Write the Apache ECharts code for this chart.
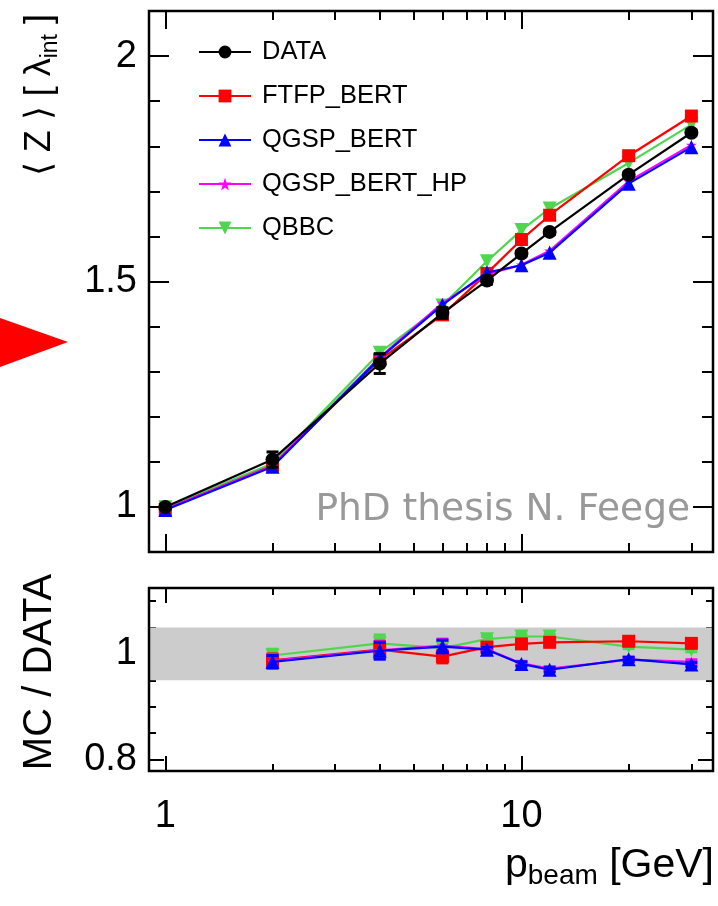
<!DOCTYPE html>
<html>
<head>
<meta charset="utf-8">
<script src="https://cdn.jsdelivr.net/npm/echarts@6/dist/echarts.min.js"></script>
<style>
html, body { margin: 0; padding: 0; background: #fff; }
#chart { width: 718px; height: 906px; }
</style>
</head>
<body>
<div id="chart"></div>
<script>
// Beam momenta [GeV] and mean shower depth <Z> [lambda_int]
const momenta = [1, 2, 4, 6, 8, 10, 12, 20, 30];
const zData    = [1.000, 1.105, 1.318, 1.430, 1.502, 1.562, 1.610, 1.737, 1.830];
const zDataErr = [0.004, 0.017, 0.022, 0.012, 0.008, 0.006, 0.006, 0.006, 0.006];
const zFtfp    = [0.995, 1.092, 1.326, 1.426, 1.518, 1.593, 1.647, 1.779, 1.867];
const zQgsp    = [0.993, 1.089, 1.330, 1.448, 1.520, 1.536, 1.564, 1.717, 1.798];
const zQgspHp  = [0.995, 1.091, 1.332, 1.452, 1.516, 1.537, 1.568, 1.722, 1.803];
const zQbbc    = [0.999, 1.096, 1.342, 1.447, 1.545, 1.614, 1.662, 1.763, 1.848];

// MC / DATA ratios
const ratioMomenta = [2, 4, 6, 8, 10, 12, 20, 30];
const rFtfp   = [0.988, 1.008, 0.995, 1.013, 1.019, 1.022, 1.024, 1.020];
const rQgsp   = [0.985, 1.006, 1.014, 1.008, 0.981, 0.970, 0.990, 0.980];
const rQgspHp = [0.987, 1.007, 1.016, 1.009, 0.982, 0.972, 0.989, 0.985];
const rQbbc   = [0.997, 1.020, 1.011, 1.028, 1.033, 1.033, 1.014, 1.008];
const rErr    = [0.012, 0.016, 0.012, 0.005, 0.004, 0.004, 0.004, 0.004];

// Axis ticks and labels
const xMajor = [1, 10];
const xMinor = [2, 3, 4, 5, 6, 7, 8, 9, 20, 30];
const yTopMajor = [1, 1.5, 2];
const yTopMinor = [1.1, 1.2, 1.3, 1.4, 1.6, 1.7, 1.8, 1.9];
const yBotMajor = [0.8, 1.0];
const yBotMinor = [0.85, 0.9, 0.95, 1.05, 1.1];
const bandLow = 0.95, bandHigh = 1.05;

const FONT = 'Liberation Sans, Arial, sans-serif';
const X_MIN = 0.9, X_MAX = 34.5;

const STAR = 'path://M50,0 L61,35 L98,35 L68,57 L79,91 L50,70 L21,91 L32,57 L2,35 L39,35 Z';
const DOWN_TRI = 'path://M0,0 L100,0 L50,87 Z';

const models = [
  { name: 'DATA',         color: '#000000', symbol: 'circle',   size: 14, top: zData,   ratio: null,    z: 10 },
  { name: 'FTFP_BERT',    color: '#ff0000', symbol: 'rect',     size: 13, top: zFtfp,   ratio: rFtfp,   z: 5 },
  { name: 'QGSP_BERT',    color: '#0000ff', symbol: 'triangle', size: 14, top: zQgsp,   ratio: rQgsp,   z: 7 },
  { name: 'QGSP_BERT_HP', color: '#ff00ff', symbol: STAR,       size: 11, top: zQgspHp, ratio: rQgspHp, z: 6 },
  { name: 'QBBC',         color: '#4fd64f', symbol: DOWN_TRI,   size: 14, top: zQbbc,   ratio: rQbbc,   z: 4 }
];

function xAxisDef(grid, pos, ticks, len, labels) {
  return {
    type: 'log', logBase: 10, gridIndex: grid, position: pos, min: X_MIN, max: X_MAX,
    axisLine: { show: false }, splitLine: { show: false },
    axisTick: { show: true, inside: true, length: len, customValues: ticks,
                lineStyle: { color: '#000', width: 2 } },
    axisLabel: labels
      ? { show: true, customValues: labels, fontSize: 38, fontFamily: FONT, color: '#000', margin: 27 }
      : { show: false }
  };
}

function yAxisDef(grid, pos, min, max, ticks, len, labels) {
  return {
    type: 'value', gridIndex: grid, position: pos, min: min, max: max,
    axisLine: { show: false }, splitLine: { show: false },
    axisTick: { show: true, inside: true, length: len, customValues: ticks,
                lineStyle: { color: '#000', width: 2 } },
    axisLabel: labels
      ? { show: true, customValues: labels, fontSize: 38, fontFamily: FONT, color: '#000', margin: 12 }
      : { show: false }
  };
}

function errorBars(xs, ys, errs, color, xi, yi, z) {
  return {
    type: 'custom', xAxisIndex: xi, yAxisIndex: yi, z: z, silent: true,
    data: xs.map((x, i) => [x, ys[i], errs[i]]),
    renderItem: function (params, api) {
      const x = api.value(0), y = api.value(1), e = api.value(2);
      const lo = api.coord([x, y - e]);
      const hi = api.coord([x, y + e]);
      const cw = 6;
      return {
        type: 'group',
        children: [
          { type: 'line', shape: { x1: lo[0], y1: lo[1], x2: hi[0], y2: hi[1] }, style: { stroke: color, lineWidth: 2 } },
          { type: 'line', shape: { x1: lo[0] - cw, y1: lo[1], x2: lo[0] + cw, y2: lo[1] }, style: { stroke: color, lineWidth: 3 } },
          { type: 'line', shape: { x1: hi[0] - cw, y1: hi[1], x2: hi[0] + cw, y2: hi[1] }, style: { stroke: color, lineWidth: 3 } }
        ]
      };
    }
  };
}

function lineSeries(m, xs, ys, xi, yi) {
  return {
    type: 'line', name: m.name, xAxisIndex: xi, yAxisIndex: yi, z: m.z,
    data: xs.map((x, i) => [x, ys[i]]),
    symbol: m.symbol, symbolSize: m.size, showSymbol: true,
    lineStyle: { color: m.color, width: 2.2 },
    itemStyle: { color: m.color },
    emphasis: { disabled: true }
  };
}

const series = [];
// shaded +-5% band in the ratio panel
series.push({
  type: 'line', xAxisIndex: 4, yAxisIndex: 4, data: [], z: 1, silent: true,
  markArea: { silent: true, itemStyle: { color: '#cccccc' },
    data: [[{ xAxis: X_MIN, yAxis: bandLow }, { xAxis: X_MAX, yAxis: bandHigh }]] }
});
models.forEach(m => series.push(lineSeries(m, momenta, m.top, 0, 0)));
series.push(errorBars(momenta, zData, zDataErr, '#000000', 0, 0, 11));
models.forEach(m => {
  if (m.ratio) {
    series.push(lineSeries(m, ratioMomenta, m.ratio, 4, 4));
    series.push(errorBars(ratioMomenta, m.ratio, rErr, m.color, 4, 4, m.z));
  }
});

const chart = echarts.init(document.getElementById('chart'), null, { renderer: 'canvas' });
chart.setOption({
  animation: false,
  backgroundColor: '#ffffff',
  grid: [
    { left: 149, top: 11, width: 564, height: 541, show: true, borderColor: '#000', borderWidth: 2.5, backgroundColor: 'transparent', z: 20 },
    { left: 149, top: 588, width: 564, height: 183, show: true, borderColor: '#000', borderWidth: 2.5, backgroundColor: 'transparent', z: 20 }
  ],
  xAxis: [
    xAxisDef(0, 'bottom', xMajor, 18, null),
    xAxisDef(0, 'bottom', xMinor, 9, null),
    xAxisDef(0, 'top', xMajor, 18, null),
    xAxisDef(0, 'top', xMinor, 9, null),
    xAxisDef(1, 'bottom', xMajor, 15, xMajor),
    xAxisDef(1, 'bottom', xMinor, 7, null),
    xAxisDef(1, 'top', xMajor, 15, null),
    xAxisDef(1, 'top', xMinor, 7, null)
  ],
  yAxis: [
    yAxisDef(0, 'left', 0.9, 2.1, yTopMajor, 20, yTopMajor),
    yAxisDef(0, 'left', 0.9, 2.1, yTopMinor, 11, null),
    yAxisDef(0, 'right', 0.9, 2.1, yTopMajor, 20, null),
    yAxisDef(0, 'right', 0.9, 2.1, yTopMinor, 11, null),
    yAxisDef(1, 'left', 0.778, 1.125, yBotMajor, 15, yBotMajor),
    yAxisDef(1, 'left', 0.778, 1.125, yBotMinor, 7, null),
    yAxisDef(1, 'right', 0.778, 1.125, yBotMajor, 15, null),
    yAxisDef(1, 'right', 0.778, 1.125, yBotMinor, 7, null)
  ],
  legend: {
    orient: 'vertical', left: 193, top: 34,
    itemWidth: 52, itemHeight: 16, itemGap: 18,
    selectedMode: false,
    data: models.map(m => m.name),
    textStyle: { fontSize: 25.5, lineHeight: 26, fontFamily: FONT, color: '#000', padding: [0, 0, 0, 6] }
  },
  graphic: [
    { type: 'polygon', shape: { points: [[0, 318], [68, 342], [0, 367]] }, style: { fill: '#ff0000' } },
    { type: 'text', x: 690, y: 510, z: 30,
      style: { text: 'PhD thesis N. Feege', fill: '#999999', font: '37.5px "DejaVu Sans"', align: 'right', verticalAlign: 'middle' } },
    { type: 'text', x: 40, y: 14, rotation: Math.PI / 2,
      style: { text: '{m|⟨ Z ⟩ [ λ}{s|int}{m| ]}', align: 'right', verticalAlign: 'middle', fill: '#000',
        rich: { m: { fontSize: 36, lineHeight: 44, fontFamily: FONT, fill: '#000' },
                s: { fontSize: 23, lineHeight: 20, verticalAlign: 'bottom', fontFamily: FONT, fill: '#000' } } } },
    { type: 'text', x: 40, y: 672, rotation: Math.PI / 2,
      style: { text: 'MC / DATA', align: 'center', verticalAlign: 'middle', fill: '#000', font: '40px ' + FONT } },
    { type: 'text', x: 714, y: 866,
      style: { text: '{p|p}{s|beam}{p| [GeV]}', align: 'right', verticalAlign: 'middle', fill: '#000',
        rich: { p: { fontSize: 41, lineHeight: 48, fontFamily: FONT, fill: '#000' },
                s: { fontSize: 28, lineHeight: 18, verticalAlign: 'bottom', fontFamily: FONT, fill: '#000' } } } }
  ],
  series: series
});
</script>
</body>
</html>
